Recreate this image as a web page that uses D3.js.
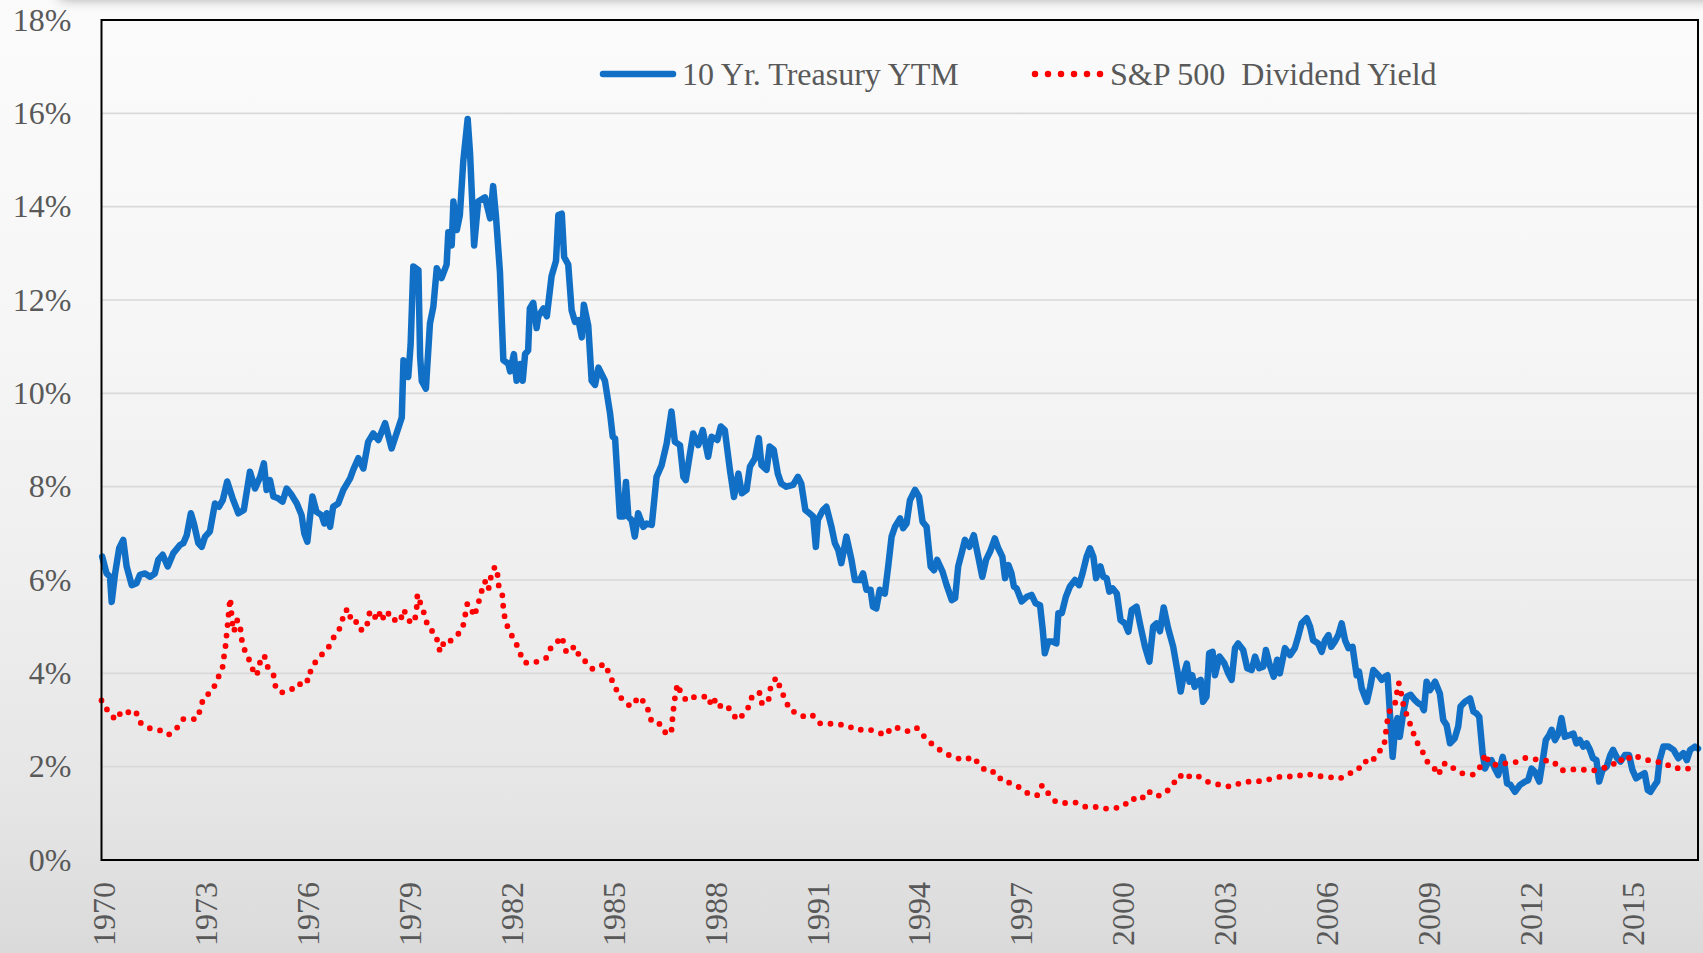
<!DOCTYPE html>
<html>
<head>
<meta charset="utf-8">
<script src="https://cdn.jsdelivr.net/npm/d3@7"></script>
<style>
  html, body { margin: 0; padding: 0; background: #f0f0f0; }
  svg { display: block; }
  text { font-family: "Liberation Serif", "Times New Roman", serif; fill: #595959; }
</style>
</head>
<body>
<svg id="chart" width="1703" height="953"></svg>
<script>
// ---------------- DATA ----------------
const seriesNames = ["10 Yr. Treasury YTM", "S&P 500  Dividend Yield"];

const yearTicks = [1970, 1973, 1976, 1979, 1982, 1985, 1988, 1991, 1994, 1997, 2000, 2003, 2006, 2009, 2012, 2015];
const percentTicks = [0, 2, 4, 6, 8, 10, 12, 14, 16, 18];

// 10 Yr Treasury yield (%), dates as decimal years on the chart's axis
const treasuryDates = [
1970.02,1970.15,1970.25,1970.30,1970.40,1970.52,1970.64,1970.74,1970.89,1971.03,1971.13,1971.28,1971.43,1971.57,1971.67,1971.80,1971.95,
1972.11,1972.31,1972.41,1972.51,1972.63,1972.72,1972.85,1972.95,1973.05,1973.19,1973.34,1973.46,1973.57,1973.70,1973.86,
1974.03,1974.19,1974.37,1974.52,1974.67,1974.78,1974.86,1974.96,1975.06,1975.20,1975.33,1975.45,1975.60,1975.75,1975.89,1975.97,
1976.06,1976.14,1976.21,1976.33,1976.48,1976.56,1976.63,1976.73,1976.82,1976.97,1977.12,1977.32,1977.41,1977.56,1977.71,1977.85,
1978.00,1978.15,1978.35,1978.54,1978.84,1978.89,1979.03,1979.10,1979.18,1979.33,1979.38,1979.43,1979.55,1979.67,1979.77,1979.87,
1980.01,1980.16,1980.21,1980.31,1980.36,1980.46,1980.55,1980.65,1980.78,1980.85,1980.97,1981.09,1981.29,1981.44,1981.53,1981.61,
1981.73,1981.83,1981.98,1982.03,1982.14,1982.22,1982.32,1982.40,1982.47,1982.56,1982.61,1982.71,1982.81,1982.86,1983.01,1983.11,
1983.25,1983.38,1983.45,1983.55,1983.62,1983.74,1983.84,1983.94,1984.04,1984.14,1984.20,1984.33,1984.43,1984.53,1984.63,1984.82,
1984.97,1985.05,1985.12,1985.26,1985.36,1985.44,1985.51,1985.61,1985.70,1985.80,1985.95,1986.05,1986.20,1986.34,1986.49,1986.64,
1986.78,1986.88,1987.03,1987.13,1987.20,1987.42,1987.57,1987.70,1987.86,1987.96,1988.13,1988.23,1988.35,1988.50,1988.62,1988.75,
1988.85,1988.99,1989.09,1989.24,1989.35,1989.43,1989.58,1989.67,1989.79,1989.91,1990.01,1990.16,1990.36,1990.50,1990.60,1990.72,
1990.84,1990.95,1991.03,1991.09,1991.24,1991.34,1991.49,1991.59,1991.69,1991.78,1991.93,1992.08,1992.18,1992.33,1992.42,1992.52,
1992.64,1992.71,1992.81,1992.91,1993.06,1993.16,1993.26,1993.36,1993.51,1993.60,1993.70,1993.80,1993.95,1994.07,1994.17,1994.29,
1994.41,1994.51,1994.60,1994.76,1994.88,1995.03,1995.13,1995.22,1995.32,1995.42,1995.55,1995.68,1995.81,1995.93,1996.04,1996.16,
1996.30,1996.40,1996.52,1996.60,1996.70,1996.79,1996.86,1996.94,1997.09,1997.24,1997.38,1997.50,1997.63,1997.71,1997.77,1997.87,
1998.00,1998.11,1998.17,1998.27,1998.39,1998.51,1998.66,1998.78,1998.88,1999.00,1999.10,1999.20,1999.28,1999.41,1999.49,1999.59,
1999.67,1999.77,1999.89,2000.00,2000.13,2000.23,2000.33,2000.47,2000.59,2000.72,2000.85,2000.96,2001.06,2001.16,2001.27,2001.40,
2001.55,2001.67,2001.77,2001.87,2001.95,2002.03,2002.11,2002.18,2002.26,2002.36,2002.43,2002.53,2002.61,2002.71,2002.78,2002.91,
2003.06,2003.17,2003.27,2003.37,2003.46,2003.61,2003.73,2003.86,2003.96,2004.08,2004.20,2004.28,2004.39,2004.51,2004.61,2004.69,
2004.84,2004.99,2005.13,2005.23,2005.33,2005.48,2005.58,2005.67,2005.82,2005.92,2006.02,2006.12,2006.20,2006.31,2006.41,2006.51,
2006.61,2006.71,2006.83,2006.95,2007.02,2007.10,2007.25,2007.35,2007.44,2007.59,2007.69,2007.79,2007.86,2007.93,2008.01,2008.08,
2008.15,2008.22,2008.32,2008.42,2008.54,2008.66,2008.76,2008.86,2008.93,2009.01,2009.11,2009.26,2009.40,2009.50,2009.60,2009.70,
2009.84,2009.94,2010.01,2010.14,2010.29,2010.39,2010.48,2010.56,2010.66,2010.73,2010.82,2010.92,2011.02,2011.12,2011.25,2011.32,
2011.38,2011.48,2011.61,2011.76,2011.91,2012.00,2012.10,2012.20,2012.33,2012.43,2012.52,2012.62,2012.69,2012.79,2012.89,2012.98,
2013.08,2013.23,2013.33,2013.42,2013.52,2013.62,2013.72,2013.82,2013.91,2014.01,2014.09,2014.19,2014.31,2014.42,2014.50,2014.62,
2014.72,2014.85,2014.97,2015.07,2015.18,2015.33,2015.43,2015.52,2015.60,2015.73,2015.80,2015.87,2015.98,2016.13,2016.28,2016.42,
2016.57,2016.67,2016.77,2016.91,2017.00
];
const treasuryYields = [
6.50,6.14,6.07,5.53,6.14,6.68,6.86,6.29,5.89,5.93,6.11,6.14,6.07,6.14,6.43,6.54,6.29,
6.57,6.75,6.79,6.96,7.43,7.21,6.79,6.71,6.93,7.04,7.64,7.57,7.71,8.11,7.75,
7.43,7.50,8.32,7.96,8.21,8.50,7.93,8.14,7.79,7.75,7.68,7.96,7.82,7.64,7.39,7.00,
6.82,7.36,7.79,7.46,7.39,7.21,7.43,7.14,7.57,7.64,7.93,8.18,8.36,8.61,8.39,8.96,
9.14,9.00,9.36,8.82,9.48,10.71,10.35,11.04,12.72,12.64,10.79,10.26,10.10,11.50,11.86,12.68,
12.47,12.76,13.45,13.17,14.11,13.50,13.82,14.97,15.88,15.14,13.17,14.11,14.20,13.75,14.44,13.82,
12.60,10.71,10.63,10.47,10.84,10.27,10.63,10.27,10.84,10.92,11.82,11.94,11.40,11.65,11.82,11.65,
12.51,12.84,13.82,13.85,12.92,12.76,11.78,11.53,11.57,11.20,11.90,11.45,10.27,10.18,10.55,10.27,
9.58,9.07,9.03,7.36,7.36,8.10,7.36,7.28,6.93,7.43,7.14,7.21,7.18,8.21,8.46,8.93,
9.61,8.96,8.89,8.21,8.14,9.14,8.89,9.21,8.64,9.07,9.00,9.29,9.21,8.36,7.78,8.28,
7.86,7.93,8.43,8.61,9.04,8.46,8.36,8.86,8.79,8.28,8.07,8.00,8.04,8.21,8.07,7.50,
7.43,7.36,6.71,7.29,7.50,7.57,7.14,6.79,6.64,6.36,6.93,6.43,6.00,6.00,6.14,5.79,
5.79,5.43,5.39,5.79,5.71,6.29,6.93,7.14,7.32,7.11,7.21,7.71,7.93,7.78,7.25,7.14,
6.29,6.21,6.43,6.18,5.89,5.57,5.61,6.29,6.57,6.86,6.71,6.96,6.50,6.07,6.43,6.61,
6.89,6.68,6.50,6.04,6.32,6.14,5.86,5.82,5.54,5.64,5.68,5.50,5.46,4.93,4.43,4.68,
4.68,4.64,5.29,5.29,5.64,5.86,6.00,5.89,6.14,6.50,6.68,6.50,6.04,6.29,6.07,6.04,
5.75,5.82,5.71,5.14,5.07,4.89,5.36,5.43,5.00,4.57,4.25,5.00,5.07,4.90,5.41,4.97,
4.57,4.07,3.61,4.00,4.21,3.82,3.96,3.71,3.82,3.86,3.39,3.50,4.43,4.46,3.96,4.36,
4.21,4.00,3.86,4.54,4.64,4.50,4.11,4.07,4.36,4.11,4.14,4.50,4.18,3.93,4.29,4.00,
4.54,4.39,4.54,4.79,5.07,5.18,5.00,4.71,4.64,4.46,4.71,4.82,4.57,4.68,4.82,5.07,
4.71,4.54,4.57,3.96,4.04,3.68,3.39,3.71,4.07,3.96,3.86,3.93,3.96,3.14,2.21,2.79,
3.04,2.64,3.14,3.50,3.54,3.43,3.36,3.32,3.21,3.82,3.64,3.82,3.57,3.00,2.89,2.50,
2.61,2.86,3.29,3.39,3.46,3.18,3.14,3.07,2.29,1.96,2.11,2.14,1.96,1.82,2.21,1.96,
1.64,1.61,1.46,1.61,1.68,1.71,1.96,1.89,1.68,2.14,2.57,2.68,2.79,2.57,2.71,3.04,
2.64,2.68,2.71,2.50,2.57,2.43,2.50,2.36,2.18,2.14,1.68,1.93,2.00,2.25,2.36,2.18,
2.11,2.25,2.25,1.93,1.75,1.82,1.86,1.50,1.46,1.61,1.68,2.14,2.43,2.43,2.36,2.18,
2.29,2.14,2.36,2.43,2.39
];

// S&P 500 dividend yield (%)
const dividendDates = [
1970.00,1970.20,1970.42,1970.61,1970.82,1971.00,1971.13,1971.43,1971.69,1971.97,1972.21,1972.41,1972.65,1972.81,1972.92,1973.00,
1973.26,1973.41,1973.56,1973.61,1973.66,1973.69,1973.73,1973.76,1973.79,1973.82,1973.85,1973.90,1973.98,1974.08,1974.10,1974.17,
1974.32,1974.44,1974.57,1974.65,1974.79,1974.89,1975.06,1975.12,1975.28,1975.52,1975.76,1975.94,1976.09,1976.17,1976.36,1976.51,
1976.66,1976.81,1976.95,1977.07,1977.15,1977.30,1977.34,1977.53,1977.63,1977.81,1977.85,1977.93,1978.12,1978.22,1978.32,1978.47,
1978.64,1978.81,1978.86,1978.96,1979.10,1979.23,1979.28,1979.30,1979.40,1979.52,1979.61,1979.85,1979.92,1979.98,1980.10,1980.26,
1980.42,1980.63,1980.70,1980.77,1980.85,1980.97,1981.08,1981.17,1981.29,1981.39,1981.46,1981.58,1981.65,1981.69,1981.80,1981.83,
1981.88,1982.00,1982.19,1982.32,1982.42,1982.58,1982.83,1983.09,1983.23,1983.40,1983.55,1983.69,1983.94,1984.09,1984.30,1984.46,
1984.70,1984.85,1984.95,1985.12,1985.22,1985.38,1985.56,1985.70,1985.80,1986.00,1986.10,1986.20,1986.46,1986.64,1986.78,1986.81,
1986.85,1986.90,1986.96,1987.08,1987.24,1987.47,1987.64,1987.80,1987.90,1988.01,1988.13,1988.33,1988.55,1988.70,1988.94,1989.07,
1989.17,1989.38,1989.45,1989.64,1989.70,1989.86,1990.00,1990.14,1990.29,1990.48,1990.64,1990.91,1991.01,1991.17,1991.45,1991.64,
1991.92,1992.25,1992.52,1992.79,1993.08,1993.26,1993.56,1993.77,1994.00,1994.24,1994.50,1994.76,1995.05,1995.39,1995.66,1995.88,
1996.09,1996.31,1996.53,1996.71,1996.95,1997.24,1997.54,1997.69,1997.86,1998.10,1998.39,1998.69,1998.97,1999.24,1999.53,1999.84,
2000.10,2000.30,2000.59,2000.80,2001.06,2001.33,2001.55,2001.74,2001.90,2002.09,2002.34,2002.61,2002.94,2003.25,2003.57,2003.90,
2004.21,2004.52,2004.82,2005.14,2005.45,2005.79,2006.13,2006.44,2006.71,2006.97,2007.16,2007.39,2007.55,2007.75,2007.80,2007.84,
2007.92,2008.07,2008.13,2008.19,2008.27,2008.34,2008.47,2008.59,2008.72,2008.87,2009.01,2009.19,2009.36,2009.49,2009.65,2009.81,
2010.08,2010.39,2010.63,2010.74,2010.85,2011.14,2011.39,2011.65,2011.93,2012.20,2012.49,2012.73,2012.98,2013.25,2013.58,2013.88,
2014.16,2014.47,2014.67,2014.83,2015.06,2015.35,2015.66,2015.98,2016.29,2016.63,2016.98
];
const dividendYields = [
3.42,3.18,3.00,3.20,3.16,3.20,2.95,2.82,2.79,2.68,2.82,3.02,3.02,3.02,3.25,3.48,
3.62,3.87,4.11,4.38,4.63,4.89,5.16,5.43,5.61,5.34,5.09,4.89,5.14,5.09,4.84,4.57,
4.34,4.10,3.95,4.21,4.39,4.14,3.98,3.73,3.58,3.66,3.67,3.88,3.84,4.10,4.31,4.42,
4.52,4.75,4.86,5.07,5.34,5.37,5.10,5.10,4.93,4.96,5.23,5.34,5.14,5.34,5.14,5.30,
5.14,5.11,5.36,5.30,5.07,5.16,5.42,5.69,5.48,5.24,4.99,4.83,4.56,4.46,4.71,4.69,
4.77,4.96,5.22,5.49,5.46,5.22,5.46,5.72,5.97,5.79,6.05,6.29,6.18,5.89,5.68,5.41,
5.15,4.91,4.67,4.44,4.25,4.21,4.25,4.33,4.55,4.66,4.79,4.44,4.58,4.33,4.23,4.09,
4.17,4.19,3.95,3.74,3.50,3.44,3.29,3.37,3.50,3.37,3.20,2.95,2.91,2.68,2.77,3.03,
3.31,3.57,3.77,3.53,3.41,3.50,3.50,3.50,3.36,3.50,3.27,3.34,3.20,3.00,3.14,3.31,
3.55,3.58,3.33,3.44,3.71,3.91,3.66,3.41,3.19,3.16,3.08,3.12,3.03,2.92,2.92,2.91,
2.89,2.78,2.81,2.76,2.67,2.84,2.82,2.75,2.83,2.63,2.45,2.32,2.21,2.14,2.21,2.01,
1.88,1.89,1.68,1.66,1.59,1.44,1.38,1.60,1.44,1.24,1.22,1.23,1.14,1.14,1.10,1.11,
1.16,1.32,1.28,1.48,1.36,1.44,1.63,1.82,1.73,1.83,1.78,1.66,1.61,1.57,1.66,1.69,
1.69,1.76,1.80,1.78,1.85,1.80,1.78,1.74,1.85,1.91,2.12,2.08,2.29,2.41,2.66,2.93,
3.19,3.30,3.56,3.80,3.54,3.27,3.03,2.78,2.53,2.36,2.12,2.02,1.82,2.06,2.07,1.96,
1.85,1.83,2.03,2.28,2.08,2.02,2.09,2.10,2.19,2.16,2.13,2.12,1.92,1.94,1.94,1.91,
1.96,2.02,2.18,2.09,2.25,2.18,2.11,2.09,1.96,1.98,1.88
];

// ---------------- CHART ----------------
const W = 1703, H = 953;
const svg = d3.select("#chart");
const defs = svg.append("defs");

const bg = defs.append("linearGradient").attr("id", "bg").attr("x1", 0).attr("y1", 0).attr("x2", 0).attr("y2", 1);
[[0, "#fbfbfb"], [0.3, "#f7f7f7"], [0.6, "#efefef"], [0.85, "#e5e5e5"], [1, "#dadada"]]
  .forEach(([o, c]) => bg.append("stop").attr("offset", o).attr("stop-color", c));

const blur = defs.append("filter").attr("id", "shadow").attr("x", "-20%").attr("y", "-200%").attr("width", "140%").attr("height", "500%");
blur.append("feGaussianBlur").attr("stdDeviation", 7);

svg.append("rect").attr("width", W).attr("height", H).attr("fill", "url(#bg)");
// top shadow
svg.append("rect").attr("x", 60).attr("y", -30).attr("width", 1720).attr("height", 28)
  .attr("fill", "#000").attr("opacity", 0.42).attr("filter", "url(#shadow)");

const plot = { left: 101.5, right: 1698, top: 20, bottom: 860 };
const x = d3.scaleLinear().domain([1970, 2017]).range([plot.left, plot.right]);
const y = d3.scaleLinear().domain([0, 18]).range([plot.bottom, plot.top]);

// gridlines
svg.append("g")
  .selectAll("line").data(percentTicks.filter(v => v > 0 && v < 18)).join("line")
  .attr("x1", plot.left).attr("x2", plot.right)
  .attr("y1", d => y(d)).attr("y2", d => y(d))
  .attr("stroke", "#d9d9d9").attr("stroke-width", 1.6);

// y axis labels
const yAxis = d3.axisLeft(y).tickValues(percentTicks).tickFormat(d => d + "%").tickSize(0).tickPadding(30);
const gy = svg.append("g").attr("transform", `translate(${plot.left},0)`).call(yAxis);
gy.select(".domain").remove();
gy.selectAll("text").attr("font-size", 32).attr("fill", "#595959")
  .style("font-family", '"Liberation Serif", serif');

// x axis labels
const xAxis = d3.axisBottom(x).tickValues(yearTicks).tickFormat(d3.format("d")).tickSize(0);
const gx = svg.append("g").attr("transform", `translate(0,${plot.bottom})`).call(xAxis);
gx.select(".domain").remove();
gx.selectAll("text")
  .attr("font-size", 32).attr("fill", "#595959")
  .style("font-family", '"Liberation Serif", serif')
  .attr("text-anchor", "end")
  .attr("x", 0).attr("y", 0).attr("dy", "0.35em")
  .attr("transform", "translate(2,22) rotate(-90)");

// series
const treasury = treasuryDates.map((d, i) => ({ date: d, value: treasuryYields[i] }));
const dividend = dividendDates.map((d, i) => ({ date: d, value: dividendYields[i] }));
const line = d3.line().x(d => x(d.date)).y(d => y(d.value));

svg.append("path").datum(treasury).attr("d", line)
  .attr("fill", "none").attr("stroke", "#1170c6").attr("stroke-width", 6.5)
  .attr("stroke-linejoin", "round").attr("stroke-linecap", "round");

svg.append("path").datum(dividend).attr("d", line)
  .attr("fill", "none").attr("stroke", "#ff0000").attr("stroke-width", 5.8)
  .attr("stroke-dasharray", "0 10.5").attr("stroke-linecap", "round").attr("stroke-linejoin", "round");

// plot border
svg.append("rect").attr("x", plot.left).attr("y", plot.top)
  .attr("width", plot.right - plot.left).attr("height", plot.bottom - plot.top)
  .attr("fill", "none").attr("stroke", "#000").attr("stroke-width", 2);

// legend
const lg = svg.append("g");
lg.append("line").attr("x1", 603).attr("x2", 673).attr("y1", 74).attr("y2", 74)
  .attr("stroke", "#1170c6").attr("stroke-width", 6.5).attr("stroke-linecap", "round");
lg.append("text").attr("x", 682).attr("y", 85).attr("font-size", 32).text(seriesNames[0]);
lg.append("line").attr("x1", 1035).attr("x2", 1101).attr("y1", 74).attr("y2", 74)
  .attr("stroke", "#ff0000").attr("stroke-width", 6.5).attr("stroke-linecap", "round")
  .attr("stroke-dasharray", "0 13");
lg.append("text").attr("x", 1110).attr("y", 85).attr("font-size", 32)
  .style("white-space", "pre").text(seriesNames[1]);
</script>
</body>
</html>
